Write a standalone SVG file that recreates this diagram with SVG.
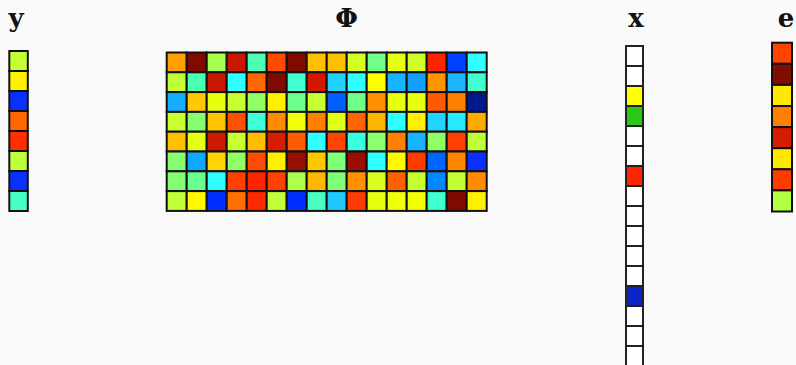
<svg xmlns="http://www.w3.org/2000/svg" width="796" height="365" viewBox="0 0 796 365">
<style>
.lbl{font-family:"DejaVu Serif","Liberation Serif",serif;font-weight:bold;font-size:26px;text-anchor:middle;fill:#111}
.c rect{stroke:#111;stroke-width:2}
.xc rect{stroke:#222;stroke-width:2}
</style>
<rect width="796" height="365" fill="#f9f9f9"/>
<g id="y">
<text class="lbl" x="16" y="27">y</text>
<g class="c">
<rect x="9.3" y="51" width="18.5" height="20" fill="#c4ff34"/>
<rect x="9.3" y="71" width="18.5" height="20" fill="#fff000"/>
<rect x="9.3" y="91" width="18.5" height="20" fill="#0a30ff"/>
<rect x="9.3" y="111" width="18.5" height="20" fill="#ff6800"/>
<rect x="9.3" y="131" width="18.5" height="20" fill="#ff3000"/>
<rect x="9.3" y="151" width="18.5" height="20" fill="#bcff3c"/>
<rect x="9.3" y="171" width="18.5" height="20" fill="#0a30ff"/>
<rect x="9.3" y="191" width="18.5" height="20" fill="#48ffc8"/>
</g>
</g>
<g id="Phi">
<text class="lbl" x="346.5" y="27">Φ</text>
<g class="c">
<g transform="translate(166.7,52.5)">
<rect x="0" y="0" width="20" height="19.8" fill="#ff9f00"/><rect x="20" y="0" width="20" height="19.8" fill="#7f0a00"/><rect x="40" y="0" width="20" height="19.8" fill="#a8ff4e"/><rect x="60" y="0" width="20" height="19.8" fill="#c81800"/><rect x="80" y="0" width="20" height="19.8" fill="#4dffb0"/><rect x="100" y="0" width="20" height="19.8" fill="#ff4a00"/><rect x="120" y="0" width="20" height="19.8" fill="#7f0a00"/><rect x="140" y="0" width="20" height="19.8" fill="#ffc000"/><rect x="160" y="0" width="20" height="19.8" fill="#ffc000"/><rect x="180" y="0" width="20" height="19.8" fill="#d4ff22"/><rect x="200" y="0" width="20" height="19.8" fill="#70ff88"/><rect x="220" y="0" width="20" height="19.8" fill="#e4ff14"/><rect x="240" y="0" width="20" height="19.8" fill="#d0ff27"/><rect x="260" y="0" width="20" height="19.8" fill="#ff2400"/><rect x="280" y="0" width="20" height="19.8" fill="#0040ff"/><rect x="300" y="0" width="20" height="19.8" fill="#30ffff"/>
<rect x="0" y="19.8" width="20" height="19.8" fill="#c0ff36"/><rect x="20" y="19.8" width="20" height="19.8" fill="#4dffb0"/><rect x="40" y="19.8" width="20" height="19.8" fill="#c81800"/><rect x="60" y="19.8" width="20" height="19.8" fill="#30ffff"/><rect x="80" y="19.8" width="20" height="19.8" fill="#ff6600"/><rect x="100" y="19.8" width="20" height="19.8" fill="#7f0a00"/><rect x="120" y="19.8" width="20" height="19.8" fill="#40ffd0"/><rect x="140" y="19.8" width="20" height="19.8" fill="#d41800"/><rect x="160" y="19.8" width="20" height="19.8" fill="#20d0ff"/><rect x="180" y="19.8" width="20" height="19.8" fill="#30ffff"/><rect x="200" y="19.8" width="20" height="19.8" fill="#ffff00"/><rect x="220" y="19.8" width="20" height="19.8" fill="#18b4ff"/><rect x="240" y="19.8" width="20" height="19.8" fill="#14a0ff"/><rect x="260" y="19.8" width="20" height="19.8" fill="#ff9600"/><rect x="280" y="19.8" width="20" height="19.8" fill="#1ab4ff"/><rect x="300" y="19.8" width="20" height="19.8" fill="#40ffd0"/>
<rect x="0" y="39.6" width="20" height="19.8" fill="#14b0ff"/><rect x="20" y="39.6" width="20" height="19.8" fill="#ffc800"/><rect x="40" y="39.6" width="20" height="19.8" fill="#e8ff10"/><rect x="60" y="39.6" width="20" height="19.8" fill="#c8ff30"/><rect x="80" y="39.6" width="20" height="19.8" fill="#90ff66"/><rect x="100" y="39.6" width="20" height="19.8" fill="#fff000"/><rect x="120" y="39.6" width="20" height="19.8" fill="#70ff88"/><rect x="140" y="39.6" width="20" height="19.8" fill="#c8ff30"/><rect x="160" y="39.6" width="20" height="19.8" fill="#0060ff"/><rect x="180" y="39.6" width="20" height="19.8" fill="#70ff88"/><rect x="200" y="39.6" width="20" height="19.8" fill="#ff9000"/><rect x="220" y="39.6" width="20" height="19.8" fill="#e8ff10"/><rect x="240" y="39.6" width="20" height="19.8" fill="#e8ff10"/><rect x="260" y="39.6" width="20" height="19.8" fill="#ff5a00"/><rect x="280" y="39.6" width="20" height="19.8" fill="#ff8000"/><rect x="300" y="39.6" width="20" height="19.8" fill="#001890"/>
<rect x="0" y="59.4" width="20" height="19.8" fill="#c8ff30"/><rect x="20" y="59.4" width="20" height="19.8" fill="#88ff70"/><rect x="40" y="59.4" width="20" height="19.8" fill="#ffc400"/><rect x="60" y="59.4" width="20" height="19.8" fill="#ff5000"/><rect x="80" y="59.4" width="20" height="19.8" fill="#40ffd8"/><rect x="100" y="59.4" width="20" height="19.8" fill="#ff8c00"/><rect x="120" y="59.4" width="20" height="19.8" fill="#f0ff08"/><rect x="140" y="59.4" width="20" height="19.8" fill="#ff8000"/><rect x="160" y="59.4" width="20" height="19.8" fill="#e0ff18"/><rect x="180" y="59.4" width="20" height="19.8" fill="#ff6400"/><rect x="200" y="59.4" width="20" height="19.8" fill="#ffb400"/><rect x="220" y="59.4" width="20" height="19.8" fill="#30ffff"/><rect x="240" y="59.4" width="20" height="19.8" fill="#fff000"/><rect x="260" y="59.4" width="20" height="19.8" fill="#20d4ff"/><rect x="280" y="59.4" width="20" height="19.8" fill="#28e8ff"/><rect x="300" y="59.4" width="20" height="19.8" fill="#ffaa00"/>
<rect x="0" y="79.2" width="20" height="19.8" fill="#ffbf00"/><rect x="20" y="79.2" width="20" height="19.8" fill="#e4ff14"/><rect x="40" y="79.2" width="20" height="19.8" fill="#cc1c00"/><rect x="60" y="79.2" width="20" height="19.8" fill="#c8ff30"/><rect x="80" y="79.2" width="20" height="19.8" fill="#ffbc00"/><rect x="100" y="79.2" width="20" height="19.8" fill="#d81c00"/><rect x="120" y="79.2" width="20" height="19.8" fill="#ff5c00"/><rect x="140" y="79.2" width="20" height="19.8" fill="#30ffff"/><rect x="160" y="79.2" width="20" height="19.8" fill="#ff4400"/><rect x="180" y="79.2" width="20" height="19.8" fill="#38ffe0"/><rect x="200" y="79.2" width="20" height="19.8" fill="#8cff6c"/><rect x="220" y="79.2" width="20" height="19.8" fill="#ff8000"/><rect x="240" y="79.2" width="20" height="19.8" fill="#18b4ff"/><rect x="260" y="79.2" width="20" height="19.8" fill="#90ff66"/><rect x="280" y="79.2" width="20" height="19.8" fill="#ff4000"/><rect x="300" y="79.2" width="20" height="19.8" fill="#bfff38"/>
<rect x="0" y="99" width="20" height="19.8" fill="#88ff70"/><rect x="20" y="99" width="20" height="19.8" fill="#10a8ff"/><rect x="40" y="99" width="20" height="19.8" fill="#ffd400"/><rect x="60" y="99" width="20" height="19.8" fill="#90ff66"/><rect x="80" y="99" width="20" height="19.8" fill="#ff4c00"/><rect x="100" y="99" width="20" height="19.8" fill="#fff000"/><rect x="120" y="99" width="20" height="19.8" fill="#961000"/><rect x="140" y="99" width="20" height="19.8" fill="#ffc800"/><rect x="160" y="99" width="20" height="19.8" fill="#80ff78"/><rect x="180" y="99" width="20" height="19.8" fill="#9a1000"/><rect x="200" y="99" width="20" height="19.8" fill="#30ffff"/><rect x="220" y="99" width="20" height="19.8" fill="#fff800"/><rect x="240" y="99" width="20" height="19.8" fill="#ff3c00"/><rect x="260" y="99" width="20" height="19.8" fill="#0064ff"/><rect x="280" y="99" width="20" height="19.8" fill="#ff8400"/><rect x="300" y="99" width="20" height="19.8" fill="#0a30ff"/>
<rect x="0" y="118.8" width="20" height="19.8" fill="#84ff74"/><rect x="20" y="118.8" width="20" height="19.8" fill="#68ff90"/><rect x="40" y="118.8" width="20" height="19.8" fill="#30ffff"/><rect x="60" y="118.8" width="20" height="19.8" fill="#ff4000"/><rect x="80" y="118.8" width="20" height="19.8" fill="#ff2400"/><rect x="100" y="118.8" width="20" height="19.8" fill="#ff4000"/><rect x="120" y="118.8" width="20" height="19.8" fill="#acff4c"/><rect x="140" y="118.8" width="20" height="19.8" fill="#ffb800"/><rect x="160" y="118.8" width="20" height="19.8" fill="#80ff78"/><rect x="180" y="118.8" width="20" height="19.8" fill="#ff9000"/><rect x="200" y="118.8" width="20" height="19.8" fill="#d8ff20"/><rect x="220" y="118.8" width="20" height="19.8" fill="#ff6000"/><rect x="240" y="118.8" width="20" height="19.8" fill="#c4ff34"/><rect x="260" y="118.8" width="20" height="19.8" fill="#0088ff"/><rect x="280" y="118.8" width="20" height="19.8" fill="#c4ff34"/><rect x="300" y="118.8" width="20" height="19.8" fill="#ff8c00"/>
<rect x="0" y="138.6" width="20" height="19.8" fill="#c0ff38"/><rect x="20" y="138.6" width="20" height="19.8" fill="#fff800"/><rect x="40" y="138.6" width="20" height="19.8" fill="#0030ff"/><rect x="60" y="138.6" width="20" height="19.8" fill="#ff7000"/><rect x="80" y="138.6" width="20" height="19.8" fill="#ff2800"/><rect x="100" y="138.6" width="20" height="19.8" fill="#c0ff38"/><rect x="120" y="138.6" width="20" height="19.8" fill="#0030ff"/><rect x="140" y="138.6" width="20" height="19.8" fill="#48ffc0"/><rect x="160" y="138.6" width="20" height="19.8" fill="#20c8ff"/><rect x="180" y="138.6" width="20" height="19.8" fill="#ff3c00"/><rect x="200" y="138.6" width="20" height="19.8" fill="#e8ff10"/><rect x="220" y="138.6" width="20" height="19.8" fill="#f0ff08"/><rect x="240" y="138.6" width="20" height="19.8" fill="#f0ff08"/><rect x="260" y="138.6" width="20" height="19.8" fill="#40ffd0"/><rect x="280" y="138.6" width="20" height="19.8" fill="#800a00"/><rect x="300" y="138.6" width="20" height="19.8" fill="#fff000"/>
</g>
</g>
</g>
<g id="x">
<text class="lbl" x="636" y="27">x</text>
<g class="xc">
<rect x="626" y="46" width="17" height="20" fill="#ffffff"/>
<rect x="626" y="66" width="17" height="20" fill="#ffffff"/>
<rect x="626" y="86" width="17" height="20" fill="#ffff00"/>
<rect x="626" y="106" width="17" height="20" fill="#28c814"/>
<rect x="626" y="126" width="17" height="20" fill="#ffffff"/>
<rect x="626" y="146" width="17" height="20" fill="#ffffff"/>
<rect x="626" y="166" width="17" height="20" fill="#ff2400"/>
<rect x="626" y="186" width="17" height="20" fill="#ffffff"/>
<rect x="626" y="206" width="17" height="20" fill="#ffffff"/>
<rect x="626" y="226" width="17" height="20" fill="#ffffff"/>
<rect x="626" y="246" width="17" height="20" fill="#ffffff"/>
<rect x="626" y="266" width="17" height="20" fill="#ffffff"/>
<rect x="626" y="286" width="17" height="20" fill="#0a24c8"/>
<rect x="626" y="306" width="17" height="20" fill="#ffffff"/>
<rect x="626" y="326" width="17" height="20" fill="#ffffff"/>
<rect x="626" y="346" width="17" height="20" fill="#ffffff"/>
</g>
</g>
<g id="e">
<text class="lbl" x="786" y="27">e</text>
<g class="c">
<rect x="772" y="42.7" width="20" height="21.1" fill="#ff4400"/>
<rect x="772" y="63.8" width="20" height="21.1" fill="#7f0e00"/>
<rect x="772" y="84.9" width="20" height="21.1" fill="#ffe800"/>
<rect x="772" y="106" width="20" height="21.1" fill="#ff8000"/>
<rect x="772" y="127.1" width="20" height="21.1" fill="#d41c00"/>
<rect x="772" y="148.2" width="20" height="21.1" fill="#ffe800"/>
<rect x="772" y="169.3" width="20" height="21.1" fill="#ff3c00"/>
<rect x="772" y="190.4" width="20" height="21.1" fill="#b4ff44"/>
</g>
</g>
</svg>
